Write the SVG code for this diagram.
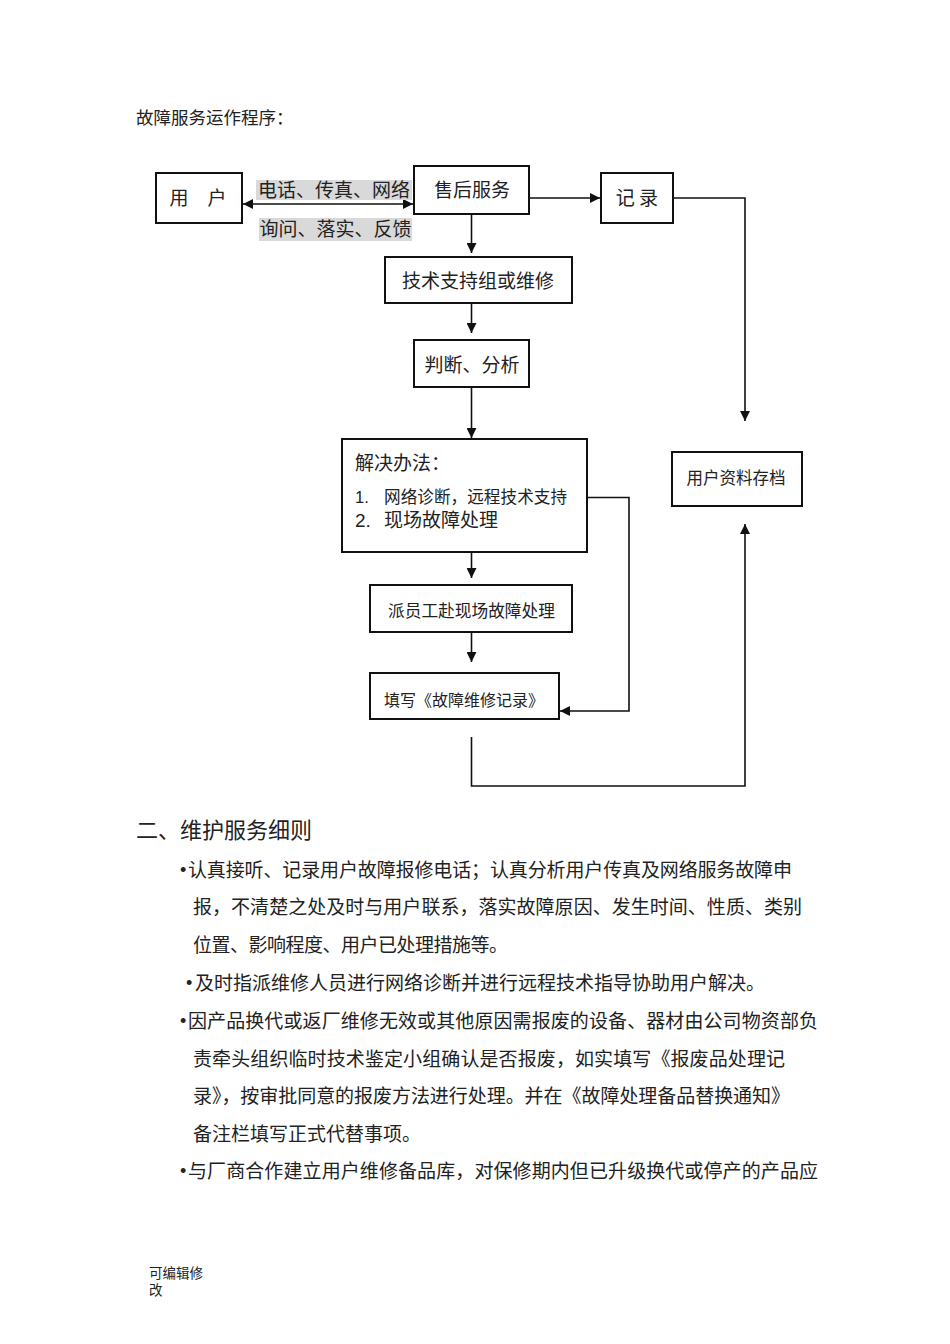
<svg xmlns="http://www.w3.org/2000/svg" width="950" height="1344" viewBox="0 0 950 1344">
<style>
text{font-family:"Noto Sans CJK SC","Liberation Sans",sans-serif;fill:#222}
.box{fill:#fff;stroke:#111;stroke-width:2}
.lbl{font-size:19px;text-anchor:middle}
.sm{font-size:16.5px;text-anchor:middle}
.body{font-size:19px}
.num{font-family:"Liberation Sans",sans-serif}
.bul{font-family:"Liberation Sans",sans-serif;font-size:18px}
.con{fill:none;stroke:#111;stroke-width:1.6}
.hl{fill:#d9d9d9}
</style>
<defs>
<marker id="ah" markerUnits="userSpaceOnUse" markerWidth="10" markerHeight="10" refX="10" refY="5" orient="auto-start-reverse" viewBox="0 0 10 10">
<path d="M0,0 L10,5 L0,10 z" fill="#111"/>
</marker>
</defs>
<rect width="950" height="1344" fill="#fff"/>
<text x="136" y="124" style="font-size:17.5px">故障服务运作程序：</text>

<g id="connectors">
<line class="con" x1="243" y1="204" x2="413" y2="204" stroke-width="2.4" marker-start="url(#ah)" marker-end="url(#ah)"/>
<line class="con" x1="529" y1="198" x2="600" y2="198" stroke-width="2" marker-end="url(#ah)"/>
<polyline class="con" points="674,198 745,198 745,421" marker-end="url(#ah)"/>
<line class="con" x1="471.5" y1="215" x2="471.5" y2="253" marker-end="url(#ah)"/>
<line class="con" x1="471.5" y1="304" x2="471.5" y2="333" marker-end="url(#ah)"/>
<line class="con" x1="471.5" y1="388" x2="471.5" y2="438" marker-end="url(#ah)"/>
<line class="con" x1="471.5" y1="553" x2="471.5" y2="578" marker-end="url(#ah)"/>
<line class="con" x1="471.5" y1="633" x2="471.5" y2="662" marker-end="url(#ah)"/>
<polyline class="con" points="588,497.5 629,497.5 629,711 560,711" marker-end="url(#ah)"/>
<polyline class="con" points="471.5,737 471.5,786 745,786 745,524" marker-end="url(#ah)"/>
</g>

<g id="label-top">
<rect class="hl" x="256" y="180" width="156" height="20"/>
<text class="lbl" x="334" y="197">电话、传真、网络</text>
</g>
<g id="label-bottom">
<rect class="hl" x="259" y="218" width="153" height="23"/>
<text class="lbl" x="335.5" y="236">询问、落实、反馈</text>
</g>

<g id="node-user">
<rect class="box" x="156" y="173" width="86" height="50"/>
<text class="lbl" x="198" y="205">用　户</text>
</g>
<g id="node-aftersales">
<rect class="box" x="414" y="166" width="115" height="48"/>
<text class="lbl" x="472" y="197">售后服务</text>
</g>
<g id="node-record">
<rect class="box" x="601" y="173" width="72" height="50"/>
<text class="lbl" x="637" y="205">记 录</text>
</g>
<g id="node-tech">
<rect class="box" x="385" y="257" width="187" height="46"/>
<text class="lbl" x="478" y="288">技术支持组或维修</text>
</g>
<g id="node-judge">
<rect class="box" x="414" y="340" width="115" height="47"/>
<text class="lbl" x="472" y="372">判断、分析</text>
</g>
<g id="node-solution">
<rect class="box" x="342" y="439" width="245" height="113"/>
<text x="355" y="470" style="font-size:19px">解决办法：</text>
<text class="num" x="355" y="503" style="font-size:16.5px">1.</text>
<text x="384" y="503" style="font-size:16.6px" textLength="183" lengthAdjust="spacing">网络诊断，远程技术支持</text>
<text class="num" x="355" y="527" style="font-size:19px">2.</text>
<text x="384" y="527" style="font-size:19px">现场故障处理</text>
</g>
<g id="node-dispatch">
<rect class="box" x="370" y="585" width="202" height="47"/>
<text class="sm" x="471.5" y="617" style="font-size:16.7px">派员工赴现场故障处理</text>
</g>
<g id="node-fill">
<rect class="box" x="370" y="673" width="189" height="46"/>
<text class="sm" x="464" y="705.5" style="font-size:16px">填写《故障维修记录》</text>
</g>
<g id="node-archive">
<rect class="box" x="672" y="452" width="130" height="54"/>
<text class="sm" x="736" y="484">用户资料存档</text>
</g>

<text x="136" y="838" style="font-size:22px">二、维护服务细则</text>
<g class="body">
<text class="bul" x="180" y="876">•</text>
<text x="188" y="877" class="body" textLength="604" lengthAdjust="spacing">认真接听、记录用户故障报修电话；认真分析用户传真及网络服务故障申</text>
<text x="193" y="914" class="body" textLength="609" lengthAdjust="spacing">报，不清楚之处及时与用户联系，落实故障原因、发生时间、性质、类别</text>
<text x="193" y="952" class="body" textLength="315" lengthAdjust="spacing">位置、影响程度、用户已处理措施等。</text>
<text class="bul" x="186" y="989">•</text>
<text x="195" y="990" class="body" textLength="570" lengthAdjust="spacing">及时指派维修人员进行网络诊断并进行远程技术指导协助用户解决。</text>
<text class="bul" x="180" y="1027">•</text>
<text x="188" y="1028" class="body" textLength="630" lengthAdjust="spacing">因产品换代或返厂维修无效或其他原因需报废的设备、器材由公司物资部负</text>
<text x="193" y="1066" class="body" textLength="592" lengthAdjust="spacing">责牵头组织临时技术鉴定小组确认是否报废，如实填写《报废品处理记</text>
<text x="193" y="1103" class="body" textLength="597" lengthAdjust="spacing">录》，按审批同意的报废方法进行处理。并在《故障处理备品替换通知》</text>
<text x="193" y="1141" class="body">备注栏填写正式代替事项。</text>
<text class="bul" x="180" y="1177">•</text>
<text x="188" y="1178" class="body" textLength="630" lengthAdjust="spacing">与厂商合作建立用户维修备品库，对保修期内但已升级换代或停产的产品应</text>
</g>
<text x="149" y="1278" style="font-size:13.5px">可编辑修</text>
<text x="149" y="1295" style="font-size:13.5px">改</text>
</svg>
